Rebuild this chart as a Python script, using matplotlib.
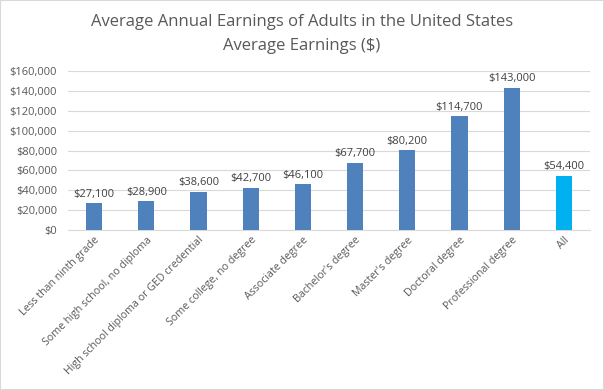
import matplotlib
matplotlib.use("Agg")
import matplotlib.pyplot as plt
from matplotlib.ticker import FuncFormatter
from matplotlib.patches import Rectangle

categories = ["Less than ninth grade", "Some high school, no diploma",
              "High school diploma or GED credential", "Some college, no degree",
              "Associate degree", "Bachelor's degree", "Master's degree",
              "Doctoral degree", "Professional degree", "All"]
values = [27100, 28900, 38600, 42700, 46100, 67700, 80200, 114700, 143000, 54400]
colors = ["#4F81BD"] * 9 + ["#00B0F0"]

plt.rcParams['font.family'] = ['Open Sans', 'DejaVu Sans']
txt = "#595959"

fig = plt.figure(figsize=(6.04, 3.90), dpi=100)
ax = fig.add_axes([68/604, 1-230/390, (590-68)/604, (230-71)/390])

x = list(range(len(categories)))
ax.bar(x, values, width=0.31, color=colors, zorder=3)
for xi, v in zip(x, values):
    ax.text(xi, v + 3500, f"${v:,}", ha="center", va="bottom", fontsize=8, color="#404040")

ax.set_ylim(0, 160000)
ax.set_xlim(-0.5, len(categories) - 0.5)
ax.set_yticks(range(0, 160001, 20000))
ax.yaxis.set_major_formatter(FuncFormatter(lambda v, p: f"${int(v):,}"))
ax.grid(axis="y", color="#D9D9D9", linewidth=0.8, zorder=0)
for s in ["top", "right", "left"]:
    ax.spines[s].set_visible(False)
ax.spines["bottom"].set_color("#D9D9D9")
ax.tick_params(axis="both", length=0, colors=txt, labelsize=8)
ax.tick_params(axis="y", pad=8)
ax.set_xticks(x)
ax.set_xticklabels(categories, rotation=45, ha="right", rotation_mode="anchor", fontsize=7.7, color=txt)

fig.text(0.5, 1-22/390, "Average Annual Earnings of Adults in the United States",
         ha="center", va="center", fontsize=12, color=txt)
fig.text(0.5, 1-46/390, "Average Earnings ($)", ha="center", va="center", fontsize=12, color=txt)

fig.patches.append(Rectangle((0, 0), 1, 1, transform=fig.transFigure, fill=False,
                             edgecolor="#D9D9D9", linewidth=1.5))
fig.savefig("out.png", dpi=100)
